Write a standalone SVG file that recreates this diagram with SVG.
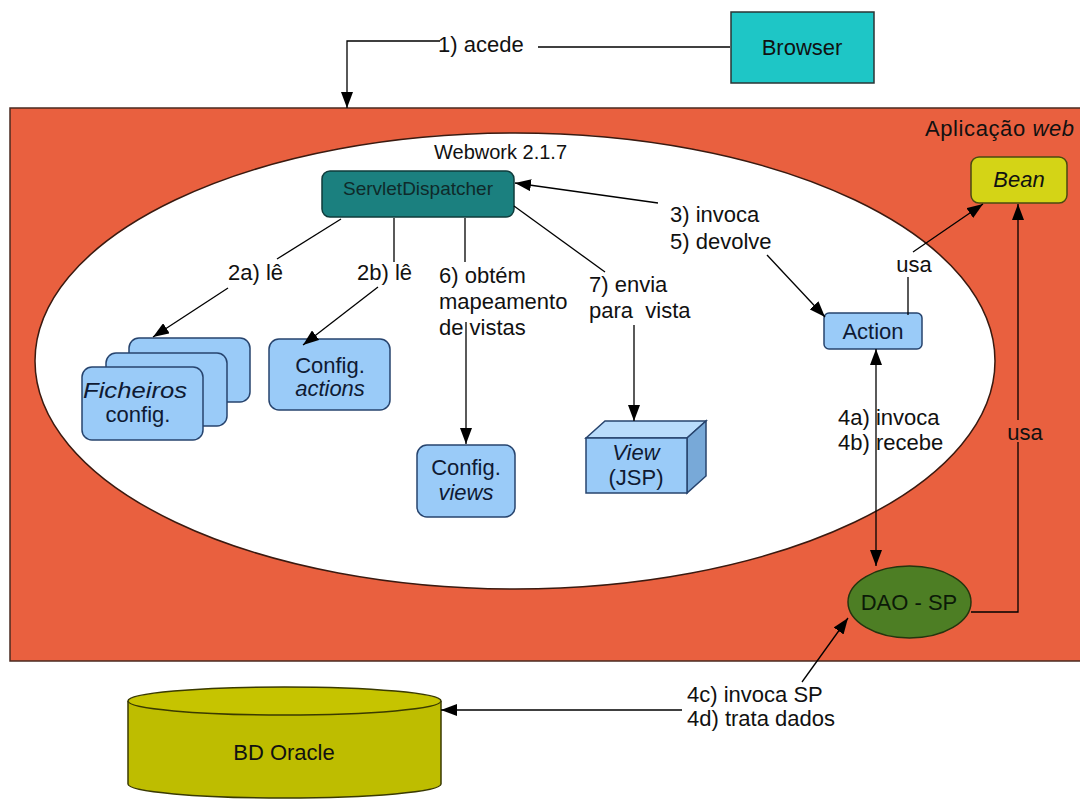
<svg xmlns="http://www.w3.org/2000/svg" width="1080" height="801" viewBox="0 0 1080 801">
  <defs>
    <marker id="arr" viewBox="0 0 16 12" refX="16" refY="6" markerWidth="16" markerHeight="12" markerUnits="userSpaceOnUse" orient="auto-start-reverse">
      <path d="M0,0 L16,6 L0,12 z" fill="#000"/>
    </marker>
    <style>
      text { font-family: "Liberation Sans", Arial, sans-serif; fill: #111; }
      .lbl { font-size: 22px; }
      .box { font-size: 22px; fill: #0f1a33; text-anchor: middle; }
      .it { font-style: italic; }
      .conn { stroke: #000; stroke-width: 1.3; fill: none; }
      .blue { fill: #9ACBF8; stroke: #27446e; stroke-width: 1.5; }
    </style>
  </defs>

  <rect width="1080" height="801" fill="#fff"/>

  <!-- application container -->
  <g id="app">
    <rect x="10" y="108" width="1080" height="553" fill="#E9603F" stroke="#4a2a20" stroke-width="1.5"/>
    <text x="925" y="136" style="font-size:22px;letter-spacing:0.6px">Aplicação <tspan class="it">web</tspan></text>
  </g>

  <!-- Webwork framework area -->
  <g id="webwork">
    <ellipse cx="515" cy="361" rx="480" ry="228" fill="#fff" stroke="#3a1a10" stroke-width="1.5"/>
    <text x="434" y="159" style="font-size:20px">Webwork 2.1.7</text>
  </g>

  <g id="browser">
    <rect x="731" y="12" width="143" height="71" fill="#1EC6C6" stroke="#2a3535" stroke-width="1.5"/>
    <text class="box" x="802" y="55" style="fill:#111">Browser</text>
  </g>

  <g id="servlet-dispatcher">
    <rect x="322" y="171" width="192" height="46" rx="8" fill="#1B807F" stroke="#0f3b3b" stroke-width="1.5"/>
    <text x="418" y="195" text-anchor="middle" style="font-size:19px;fill:#0f2a2a">ServletDispatcher</text>
  </g>

  <g id="ficheiros-config">
    <rect class="blue" x="129" y="338" width="121" height="64" rx="10"/>
    <rect class="blue" x="106" y="353" width="121" height="73" rx="10"/>
    <rect class="blue" x="82" y="367" width="121" height="73" rx="10"/>
    <text class="box it" x="83" y="398" style="text-anchor:start" textLength="104" lengthAdjust="spacingAndGlyphs">Ficheiros</text>
    <text class="box" x="138" y="422">config.</text>
  </g>

  <g id="config-actions">
    <rect class="blue" x="269" y="339" width="121" height="71" rx="10"/>
    <text class="box" x="330" y="373">Config.</text>
    <text class="box it" x="330" y="396">actions</text>
  </g>

  <g id="config-views">
    <rect class="blue" x="417" y="445" width="98" height="72" rx="10"/>
    <text class="box" x="466" y="475">Config.</text>
    <text class="box it" x="466" y="500">views</text>
  </g>

  <g id="view-jsp">
    <path d="M586,438 L605,421 L706,421 L687,438 z" fill="#B9DCFB" stroke="#27446e" stroke-width="1.5"/>
    <path d="M687,438 L706,421 L706,476 L687,493 z" fill="#78A9D8" stroke="#27446e" stroke-width="1.5"/>
    <rect class="blue" x="586" y="438" width="101" height="55"/>
    <text class="box it" x="636" y="460">View</text>
    <text class="box" x="636" y="485">(JSP)</text>
  </g>

  <g id="action">
    <rect class="blue" x="824" y="313" width="98" height="36" rx="5"/>
    <text class="box" x="873" y="339">Action</text>
  </g>

  <g id="bean">
    <rect x="971" y="157" width="96" height="46" rx="8" fill="#D4D416" stroke="#4a4a10" stroke-width="1.5"/>
    <text class="box it" x="1019" y="187" style="fill:#111">Bean</text>
  </g>

  <g id="dao-sp">
    <ellipse cx="909.5" cy="602" rx="61.5" ry="36" fill="#4D7E24" stroke="#25340e" stroke-width="1.5"/>
    <text class="box" x="909" y="610" style="fill:#0c1a08">DAO - SP</text>
  </g>

  <g id="bd-oracle">
    <path d="M128,701 L128,784 A156.5,14 0 0 0 441,784 L441,701" fill="#BEBD00" stroke="#3a3a00" stroke-width="1.5"/>
    <ellipse cx="284.5" cy="701" rx="156.5" ry="14" fill="#C6C400" stroke="#3a3a00" stroke-width="1.5"/>
    <text class="box" x="284" y="760" style="fill:#111">BD Oracle</text>
  </g>

  <!-- connectors -->
  <g id="connectors">
    <path class="conn" d="M730,47 H538"/>
    <path class="conn" d="M440,41 H347 V108" marker-end="url(#arr)"/>

    <path class="conn" d="M341,219 L277,259"/>
    <path class="conn" d="M228,288 L153,337" marker-end="url(#arr)"/>

    <path class="conn" d="M394,218 V262"/>
    <path class="conn" d="M378,287 L303,345" marker-end="url(#arr)"/>

    <path class="conn" d="M465,218 V262"/>
    <path class="conn" d="M466,322 V444" marker-end="url(#arr)"/>

    <path class="conn" d="M514,206 L605,272"/>
    <path class="conn" d="M634,325 V421" marker-end="url(#arr)"/>

    <path class="conn" d="M658,203 L515,183" marker-end="url(#arr)"/>
    <path class="conn" d="M767,255 L825,317" marker-end="url(#arr)"/>

    <path class="conn" d="M908,315 V277"/>
    <path class="conn" d="M913,252 L983,204" marker-end="url(#arr)"/>

    <path class="conn" d="M876,349 V566" marker-start="url(#arr)" marker-end="url(#arr)"/>

    <path class="conn" d="M971,612 H1018 V204" marker-end="url(#arr)"/>

    <path class="conn" d="M802,682 L848,618" marker-end="url(#arr)"/>
    <path class="conn" d="M682,710 H441" marker-end="url(#arr)"/>
  </g>

  <!-- connector labels -->
  <g id="labels" class="lbl">
    <text class="lbl" x="438" y="52">1) acede</text>
    <text class="lbl" x="228" y="280">2a) lê</text>
    <text class="lbl" x="357" y="280">2b) lê</text>
    <text class="lbl" x="439" y="283">6) obtém</text>
    <text class="lbl" x="439" y="309">mapeamento</text>
    <text class="lbl" x="439" y="335">de vistas</text>
    <text class="lbl" x="589" y="292">7) envia</text>
    <text class="lbl" x="589" y="318">para&#160; vista</text>
    <text class="lbl" x="670" y="222">3) invoca</text>
    <text class="lbl" x="670" y="249">5) devolve</text>
    <text class="lbl" x="914" y="272" text-anchor="middle">usa</text>
    <text class="lbl" x="838" y="425">4a) invoca</text>
    <text class="lbl" x="838" y="450">4b) recebe</text>
    <rect x="1005" y="420" width="40" height="22" fill="#E9603F"/>
    <text class="lbl" x="1025" y="440" text-anchor="middle">usa</text>
    <text class="lbl" x="687" y="702">4c) invoca SP</text>
    <text class="lbl" x="687" y="726">4d) trata dados</text>
  </g>
</svg>
